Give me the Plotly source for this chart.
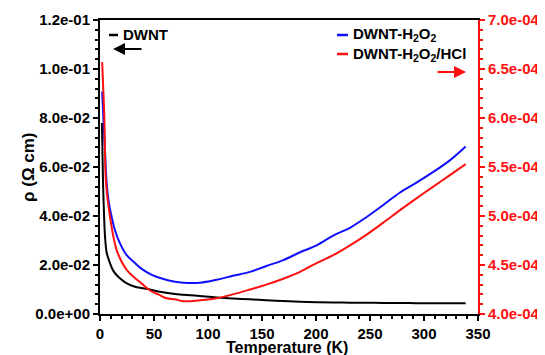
import plotly.graph_objects as go

# ---- data ----
T_dwnt = [1.8, 2.2, 2.6, 3.1, 3.8, 4.6, 6.2, 9.3, 12.5, 16.9, 24, 32.4, 46.3, 54, 69.4,
          77.1, 92.6, 108, 123, 138.9, 154, 169.7, 185.2, 200.6, 216, 231.5, 246.9,
          262, 277.8, 293, 308.6, 323, 338.6]
rho_dwnt = [0.078, 0.068, 0.058, 0.049, 0.040, 0.032, 0.025, 0.0207, 0.0175, 0.0152,
            0.0127, 0.0111, 0.0100, 0.0092, 0.0082, 0.0079, 0.0073, 0.0067, 0.0063,
            0.0060, 0.0056, 0.0053, 0.0050, 0.0048, 0.0047, 0.0046, 0.0046, 0.0045,
            0.0045, 0.0044, 0.0044, 0.0044, 0.0044]

T_h2o2 = [2.0, 3.1, 4.6, 6.2, 8, 10.8, 14, 18.5, 24.7, 32.4, 38.6, 47.9, 58, 69.4, 77.1,
          92.6, 108, 123, 138.9, 154, 169.7, 185.2, 200.6, 216, 231.5, 246.9, 262,
          277.8, 293, 308.6, 323, 338.6]
rho_h2o2 = [6.27e-4, 6.0e-4, 5.67e-4, 5.33e-4, 5.15e-4, 4.99e-4, 4.85e-4, 4.72e-4,
            4.60e-4, 4.52e-4, 4.46e-4, 4.40e-4, 4.36e-4, 4.33e-4, 4.32e-4, 4.32e-4,
            4.35e-4, 4.39e-4, 4.43e-4, 4.49e-4, 4.55e-4, 4.63e-4, 4.70e-4, 4.80e-4,
            4.88e-4, 4.99e-4, 5.11e-4, 5.24e-4, 5.34e-4, 5.45e-4, 5.56e-4, 5.71e-4]

T_hcl = [2.0, 4, 5.6, 9.3, 15.5, 24.7, 38.6, 46.3, 54, 61.8, 69.4, 77.1, 92.6, 108, 123,
         138.9, 154, 169.7, 185.2, 200.6, 216, 231.5, 246.9, 262, 277.8, 293, 308.6,
         323, 338.6]
rho_hcl = [6.57e-4, 6.01e-4, 5.33e-4, 4.99e-4, 4.65e-4, 4.45e-4, 4.31e-4, 4.24e-4,
           4.20e-4, 4.16e-4, 4.15e-4, 4.13e-4, 4.14e-4, 4.16e-4, 4.20e-4, 4.25e-4,
           4.30e-4, 4.36e-4, 4.43e-4, 4.52e-4, 4.60e-4, 4.70e-4, 4.81e-4, 4.93e-4,
           5.06e-4, 5.18e-4, 5.30e-4, 5.41e-4, 5.53e-4]

x_ticks = [0, 50, 100, 150, 200, 250, 300, 350]
y_left_ticks = [0.0, 0.02, 0.04, 0.06, 0.08, 0.10, 0.12]
y_left_labels = ["0.0e+00", "2.0e-02", "4.0e-02", "6.0e-02", "8.0e-02", "1.0e-01", "1.2e-01"]
y_right_ticks = [4.0e-4, 4.5e-4, 5.0e-4, 5.5e-4, 6.0e-4, 6.5e-4, 7.0e-4]
y_right_labels = ["4.0e-04", "4.5e-04", "5.0e-04", "5.5e-04", "6.0e-04", "6.5e-04", "7.0e-04"]

RED = "#ff1010"
BLUE = "#1010ff"
FONT = "Liberation Sans"

fig = go.Figure()
fig.add_trace(go.Scatter(x=T_dwnt, y=rho_dwnt, mode="lines", name="DWNT",
                         line=dict(color="black", width=2), line_shape="spline"))
fig.add_trace(go.Scatter(x=T_h2o2, y=rho_h2o2, mode="lines", name="DWNT-H2O2",
                         line=dict(color=BLUE, width=2), yaxis="y2", line_shape="spline"))
fig.add_trace(go.Scatter(x=T_hcl, y=rho_hcl, mode="lines", name="DWNT-H2O2/HCl",
                         line=dict(color=RED, width=2), yaxis="y2", line_shape="spline"))

# screen geometry (the page body adds an 8px margin around the figure)
SCREEN_W, SCREEN_H, BODY = 545, 355, 8
W, H = SCREEN_W - BODY, SCREEN_H - BODY
L, R, TOP, BOT = 100, 478, 20, 314   # plot area in screen pixels


def px(x):
    return (x - L) / (R - L)


def py(y):
    return (BOT - y) / (BOT - TOP)


TICK_SIZE = 15
tickfont = dict(family=FONT, size=TICK_SIZE, color="black", weight="bold")

fig.update_layout(
    width=W, height=H,
    margin=dict(l=L - BODY, r=SCREEN_W - R, t=TOP - BODY, b=SCREEN_H - BOT, autoexpand=False),
    paper_bgcolor="white", plot_bgcolor="white",
    showlegend=False,
    font=dict(family=FONT, color="black"),
    xaxis=dict(
        range=[0, 350], tickvals=x_ticks, ticks="outside", ticklen=5, tickwidth=1.5,
        tickcolor="black", automargin=False, ticklabelstandoff=0,
        showline=True, linecolor="black", linewidth=2, mirror=True, showgrid=False,
        zeroline=False, tickfont=tickfont,
        minor=dict(ticks="outside", ticklen=3, dtick=10, tickcolor="black", showgrid=False),
    ),
    yaxis=dict(
        range=[0, 0.12], tickvals=y_left_ticks, ticktext=y_left_labels,
        ticks="outside", ticklen=5, tickwidth=1.5, tickcolor="black", automargin=False,
        showline=True, linecolor="black", linewidth=2, showgrid=False, zeroline=False,
        tickfont=tickfont,
        minor=dict(ticks="outside", ticklen=3, dtick=0.004, tickcolor="black", showgrid=False),
    ),
    yaxis2=dict(
        range=[4.0e-4, 7.0e-4], tickvals=y_right_ticks, ticktext=y_right_labels,
        overlaying="y", side="right", anchor="x", automargin=False,
        ticks="outside", ticklen=5, tickwidth=1.5, tickcolor=RED,
        showline=True, linecolor=RED, linewidth=2, showgrid=False, zeroline=False,
        tickfont=dict(family=FONT, size=TICK_SIZE, color=RED, weight="bold"),
        minor=dict(ticks="outside", ticklen=3, dtick=1e-5, tickcolor=RED, showgrid=False),
    ),
)

title_font = dict(family=FONT, size=17, color="black", weight="bold")
# axis titles as annotations
fig.add_annotation(xref="paper", yref="paper", x=px(287), y=py(347),
                   xanchor="center", yanchor="middle", text="Temperature (K)",
                   showarrow=False, font=dict(family=FONT, size=16, color="black", weight="bold"))
fig.add_annotation(xref="paper", yref="paper", x=px(28), y=py(167),
                   xanchor="center", yanchor="middle", text="ρ (Ω cm)", textangle=-90,
                   showarrow=False, font=title_font)

# ---- custom legend ----
legend_font = dict(family=FONT, size=15, color="black", weight="bold")
items = [
    ("black", 109, 118, 35, "DWNT"),
    (BLUE, 337, 348, 35, "DWNT-H<sub>2</sub>O<sub>2</sub>"),
    (RED, 337, 348, 54, "DWNT-H<sub>2</sub>O<sub>2</sub>/HCl"),
]
for color, x0, x1, yy, label in items:
    fig.add_shape(type="line", xref="paper", yref="paper",
                  x0=px(x0), x1=px(x1), y0=py(yy), y1=py(yy),
                  line=dict(color=color, width=2.5))
    fig.add_annotation(xref="paper", yref="paper", x=px(x1 + 3), y=py(yy),
                       xanchor="left", yanchor="middle", text=label, showarrow=False,
                       font=legend_font)

# arrows indicating axes
fig.add_annotation(xref="paper", yref="paper", x=px(113), y=py(49), ax=30, ay=0,
                   text="", showarrow=True,
                   arrowhead=2, arrowsize=1.2, arrowwidth=2, arrowcolor="black")
fig.add_annotation(xref="paper", yref="paper", x=px(466), y=py(72), ax=-30, ay=0,
                   text="", showarrow=True,
                   arrowhead=2, arrowsize=1.2, arrowwidth=2, arrowcolor=RED)

fig.write_html("out.html")
